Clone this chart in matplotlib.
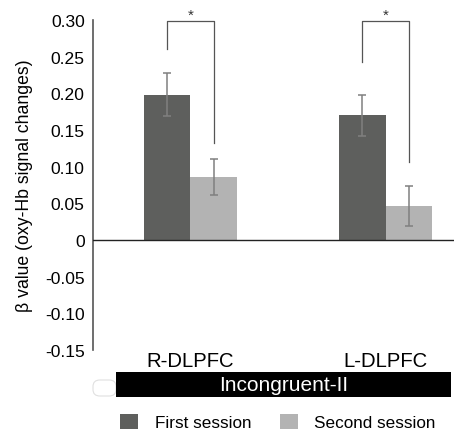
import matplotlib
matplotlib.use("Agg")
import matplotlib.pyplot as plt
import numpy as np
from matplotlib.patches import Rectangle, FancyBboxPatch, Patch
from matplotlib.transforms import blended_transform_factory

plt.rcParams["font.family"] = ["Liberation Sans", "DejaVu Sans"]

# data
regions = ["R-DLPFC", "L-DLPFC"]
first_session = [0.198, 0.170]
first_err = [0.029, 0.028]
second_session = [0.086, 0.046]
second_err = [0.024, 0.027]
condition = "Incongruent-II"
yticks = [0.30, 0.25, 0.20, 0.15, 0.10, 0.05, 0.0, -0.05, -0.10, -0.15]
ytick_labels = ["0.30", "0.25", "0.20", "0.15", "0.10", "0.05", "0", "-0.05", "-0.10", "-0.15"]
# significance brackets: (left leg bottom, right leg bottom, top)
brackets = [(0.260, 0.132, 0.299), (0.243, 0.106, 0.299)]

dark = "#5e5f5d"
light = "#b3b3b3"
err_col = "#808080"

fig = plt.figure(figsize=(4.54, 4.35), dpi=100)
ax = fig.add_axes([0.2048, 0.193, 0.7952, 0.759])

x = np.arange(len(regions))
w = 0.238
ekw = dict(ecolor=err_col, elinewidth=1.1, capsize=3.2, capthick=1.1)
ax.bar(x - w / 2, first_session, w, color=dark, yerr=first_err, error_kw=ekw, zorder=2)
ax.bar(x + w / 2, second_session, w, color=light, yerr=second_err, error_kw=ekw, zorder=2)

ax.axhline(0, color="#222222", lw=1.0, zorder=3)

for xi, (lb, rb, top) in zip(x, brackets):
    ax.plot([xi - w / 2, xi - w / 2, xi + w / 2, xi + w / 2], [lb, top, top, rb],
            color="#555555", lw=0.9, clip_on=False)
    ax.text(xi, 0.307, "*", ha="center", va="center", fontsize=11, color="#333333", clip_on=False)

ax.set_xlim(-0.5, 1.351)
ax.set_ylim(-0.15, 0.30)
ax.set_yticks(yticks)
ax.set_yticklabels(ytick_labels)
ax.tick_params(axis="y", length=0, pad=6, labelsize=12.6)
ax.set_xticks([])
for s in ["top", "right", "bottom"]:
    ax.spines[s].set_visible(False)
ax.spines["left"].set_color("#555555")
ax.spines["left"].set_linewidth(1.2)

ax.set_ylabel("β value (oxy-Hb signal changes)", fontsize=12.7)
ax.yaxis.set_label_coords(-0.166, 0.5)

trans = blended_transform_factory(ax.transData, fig.transFigure)
for xi, name in zip(x, regions):
    ax.text(xi, 1 - 362 / 435, name, transform=trans, ha="center", va="center", fontsize=14.6)

band = Rectangle((-0.384, 1 - 398 / 435), 1.72, 25.3 / 435, transform=trans,
                 facecolor="black", edgecolor="none", clip_on=False)
ax.add_artist(band)
ax.text((-0.384 + 1.336) / 2, 1 - 385.5 / 435, condition, transform=trans, ha="center",
        va="center", color="white", fontsize=15)

stub = FancyBboxPatch((93 / 454, 1 - 397 / 435), 23 / 454, 16 / 435,
                      boxstyle="round,pad=0,rounding_size=0.015", transform=fig.transFigure,
                      facecolor="white", edgecolor="#e0e0e0", lw=0.8, zorder=0)
fig.add_artist(stub)

handles = [Patch(facecolor=dark, edgecolor="none"), Patch(facecolor=light, edgecolor="none")]
fig.legend(handles, ["First session", "Second session"], loc="center",
           bbox_to_anchor=(278 / 454, 1 - 423 / 435), ncol=2, frameon=False,
           fontsize=12.3, handlelength=1.05, handleheight=1.05, handletextpad=0.95,
           columnspacing=1.7)

fig.savefig("out.png", dpi=100)
